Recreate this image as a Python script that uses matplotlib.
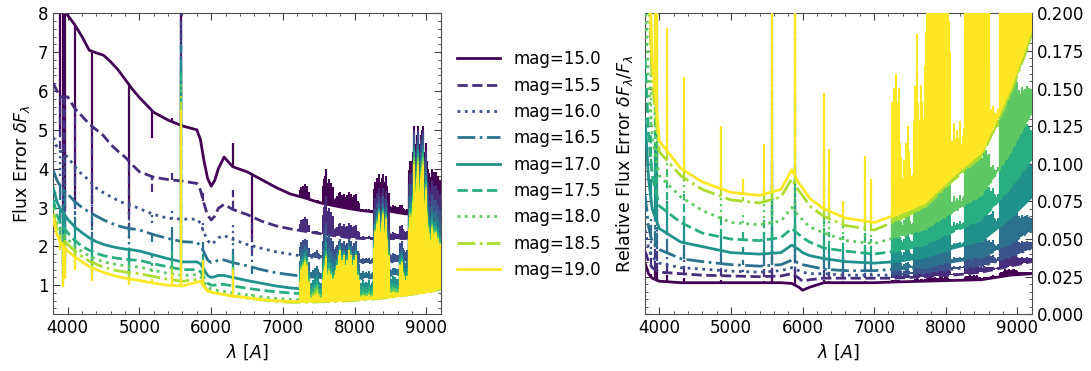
import numpy as np
import matplotlib
matplotlib.use('Agg')
import matplotlib.pyplot as plt
from matplotlib.ticker import MultipleLocator, FormatStrFormatter

# magnitudes and styles
mags = [15.0, 15.5, 16.0, 16.5, 17.0, 17.5, 18.0, 18.5, 19.0]
styles = ['-', '--', ':', '-.', '-', '--', ':', '-.', '-']
colors = plt.cm.viridis(np.linspace(0, 1, len(mags)))

# ---- left panel: flux error continuum ----
wave_l = [3800, 3850, 3900, 4000, 4100, 4200, 4300, 4400, 4500, 4600, 4700, 4800, 4900, 5000,
          5200, 5400, 5600, 5800, 5850, 5900, 5950, 6000, 6050, 6100, 6180, 6300, 6500, 6700,
          6900, 7100, 7300, 7500, 7700, 7900, 8100, 8300, 8500, 8700, 8900, 9100, 9200]
err_15 = [8.6, 8.4, 8.2, 7.95, 7.7, 7.4, 7.05, 6.98, 6.92, 6.75, 6.55, 6.3, 6.05, 5.83, 5.45, 5.25, 5.1,
          5.0, 4.75, 4.2, 3.75, 3.55, 3.7, 4.0, 4.3, 4.05, 3.92, 3.72, 3.52, 3.35, 3.25, 3.13, 3.05,
          2.98, 2.92, 2.88, 2.9, 2.84, 2.82, 2.92, 2.97]
err_155 = [6.2, 6.0, 5.85, 5.85, 5.55, 5.35, 5.15, 5.0, 4.85, 4.62, 4.45, 4.3, 4.1, 3.92, 3.78, 3.72,
           3.68, 3.62, 3.45, 3.1, 2.8, 2.68, 2.78, 2.98, 3.08, 2.95, 2.82, 2.65, 2.53, 2.45, 2.39,
           2.33, 2.28, 2.23, 2.2, 2.2, 2.2, 2.2, 2.25, 2.38, 2.48]
err_16 = [4.8, 4.55, 4.45, 4.3, 4.05, 3.85, 3.7, 3.5, 3.38, 3.28, 3.18, 3.1, 3.05, 2.97, 2.82, 2.72,
          2.7, 2.7, 2.6, 2.35, 2.15, 2.05, 2.12, 2.22, 2.28, 2.18, 2.05, 1.95, 1.86, 1.8, 1.74, 1.7,
          1.65, 1.6, 1.58, 1.58, 1.6, 1.62, 1.68, 1.78, 1.88]
err_165 = [3.95, 3.7, 3.55, 3.35, 3.15, 3.0, 2.88, 2.78, 2.68, 2.6, 2.53, 2.48, 2.45, 2.42, 2.3, 2.2,
           2.12, 2.1, 2.02, 1.85, 1.65, 1.58, 1.6, 1.65, 1.65, 1.58, 1.5, 1.4, 1.32, 1.27, 1.22,
           1.2, 1.18, 1.17, 1.17, 1.2, 1.25, 1.3, 1.38, 1.48, 1.55]
err_17 = [3.5, 3.15, 2.95, 2.7, 2.5, 2.35, 2.22, 2.12, 2.05, 2.0, 1.96, 1.93, 1.91, 1.88, 1.78, 1.68,
          1.6, 1.6, 1.55, 1.4, 1.25, 1.2, 1.22, 1.25, 1.25, 1.2, 1.12, 1.05, 0.98, 0.93, 0.9, 0.88,
          0.87, 0.87, 0.88, 0.9, 0.95, 1.0, 1.05, 1.1, 1.15]
err_175 = [3.2, 2.8, 2.6, 2.35, 2.15, 2.0, 1.9, 1.82, 1.76, 1.72, 1.69, 1.67, 1.65, 1.64, 1.55, 1.47,
           1.4, 1.4, 1.35, 1.2, 1.05, 1.0, 1.0, 1.02, 1.02, 0.98, 0.92, 0.87, 0.83, 0.8, 0.78, 0.77,
           0.77, 0.77, 0.78, 0.8, 0.84, 0.88, 0.92, 0.97, 1.02]
err_18 = [3.0, 2.6, 2.4, 2.18, 2.0, 1.86, 1.75, 1.67, 1.6, 1.56, 1.53, 1.5, 1.48, 1.47, 1.38, 1.3,
          1.25, 1.27, 1.22, 1.08, 0.95, 0.9, 0.88, 0.86, 0.84, 0.8, 0.75, 0.7, 0.66, 0.63, 0.62,
          0.62, 0.63, 0.64, 0.66, 0.69, 0.73, 0.77, 0.82, 0.88, 0.93]
err_185 = [2.85, 2.45, 2.25, 2.05, 1.88, 1.74, 1.62, 1.54, 1.46, 1.41, 1.37, 1.34, 1.32, 1.3, 1.22,
           1.15, 1.1, 1.15, 1.12, 1.0, 0.86, 0.82, 0.8, 0.78, 0.76, 0.72, 0.67, 0.62, 0.58, 0.56,
           0.56, 0.57, 0.58, 0.6, 0.62, 0.65, 0.69, 0.74, 0.79, 0.85, 0.91]
err_19 = [2.7, 2.3, 2.1, 1.88, 1.73, 1.6, 1.48, 1.4, 1.33, 1.27, 1.22, 1.18, 1.15, 1.12, 1.05, 1.0,
          0.98, 1.08, 1.1, 0.97, 0.85, 0.82, 0.8, 0.78, 0.76, 0.72, 0.68, 0.63, 0.6, 0.58, 0.58,
          0.59, 0.6, 0.62, 0.64, 0.67, 0.7, 0.75, 0.8, 0.86, 0.95]
flux_err = [err_15, err_155, err_16, err_165, err_17, err_175, err_18, err_185, err_19]

# narrow lines: absorption dips / sky emission (value at line centre)
line_wave_l = [3889, 3934, 3968, 4101, 4340, 4861, 5175, 5460, 5577, 5890, 6300, 6563]
line_err = [
    [5.0, 2.2, 3.0, 3.0, 3.1, 2.8, 4.8, 5.3, 8.5, 4.35, 4.65, 2.2],
    [4.5, 2.0, 2.6, 3.6, 2.5, 2.4, 3.4, 3.9, 8.2, 3.4, 3.45, 1.8],
    [3.8, 1.8, 2.2, 2.8, 2.1, 1.9, 2.6, 3.0, 7.8, 2.6, 2.6, 1.6],
    [3.2, 1.5, 1.8, 2.4, 2.0, 1.6, 2.1, 2.5, 7.2, 2.1, 2.1, 1.3],
    [2.6, 1.3, 1.6, 1.9, 1.45, 1.3, 1.7, 2.2, 6.8, 1.8, 1.8, 1.05],
    [2.3, 1.2, 1.4, 1.7, 1.3, 1.2, 1.5, 1.9, 6.5, 1.7, 1.6, 0.9],
    [2.1, 1.1, 1.3, 1.6, 1.2, 1.1, 1.35, 1.6, 6.2, 1.65, 1.5, 0.78],
    [2.0, 1.0, 1.2, 1.5, 1.15, 1.05, 1.25, 1.45, 5.9, 1.65, 1.45, 0.7],
    [1.9, 0.95, 1.15, 1.4, 1.1, 1.0, 1.15, 1.3, 5.5, 1.64, 1.4, 0.65],
]

# ---- right panel: relative flux error continuum ----
wave_r = [3800, 3850, 3900, 4000, 4300, 4600, 5000, 5400, 5700, 5850, 5950, 6000, 6100, 6300,
          6600, 7000, 7300, 7700, 8100, 8500, 8900, 9200]
rel_15 = [0.034, 0.027, 0.024, 0.022, 0.021, 0.021, 0.021, 0.021, 0.021, 0.0205, 0.018, 0.016,
          0.018, 0.021, 0.021, 0.021, 0.0215, 0.022, 0.0225, 0.023, 0.026, 0.027]
rel_155 = [0.042, 0.035, 0.031, 0.028, 0.027, 0.026, 0.0255, 0.025, 0.0255, 0.027, 0.024, 0.022,
           0.023, 0.024, 0.024, 0.024, 0.024, 0.025, 0.026, 0.028, 0.032, 0.035]
rel_16 = [0.056, 0.044, 0.038, 0.034, 0.031, 0.030, 0.0287, 0.028, 0.029, 0.031, 0.029, 0.028,
          0.027, 0.027, 0.026, 0.026, 0.026, 0.027, 0.030, 0.032, 0.038, 0.044]
rel_165 = [0.08, 0.058, 0.048, 0.043, 0.037, 0.035, 0.033, 0.032, 0.033, 0.036, 0.034, 0.033,
           0.032, 0.030, 0.029, 0.029, 0.030, 0.031, 0.035, 0.038, 0.047, 0.056]
rel_17 = [0.13, 0.09, 0.07, 0.057, 0.048, 0.045, 0.041, 0.040, 0.041, 0.046, 0.043, 0.041,
          0.039, 0.037, 0.035, 0.034, 0.035, 0.038, 0.044, 0.049, 0.064, 0.078]
rel_175 = [0.17, 0.12, 0.092, 0.072, 0.061, 0.054, 0.050, 0.049, 0.051, 0.057, 0.053, 0.051,
           0.048, 0.044, 0.042, 0.040, 0.042, 0.046, 0.055, 0.063, 0.084, 0.103]
rel_18 = [0.21, 0.155, 0.118, 0.092, 0.078, 0.069, 0.061, 0.0595, 0.062, 0.071, 0.065, 0.063,
          0.058, 0.054, 0.049, 0.047, 0.051, 0.056, 0.068, 0.079, 0.107, 0.134]
rel_185 = [0.27, 0.215, 0.155, 0.108, 0.092, 0.083, 0.076, 0.074, 0.078, 0.09, 0.082, 0.079,
           0.072, 0.065, 0.059, 0.056, 0.062, 0.071, 0.089, 0.105, 0.146, 0.185]
rel_19 = [0.3, 0.24, 0.17, 0.115, 0.097, 0.088, 0.081, 0.079, 0.083, 0.096, 0.087, 0.084,
          0.077, 0.070, 0.064, 0.061, 0.066, 0.074, 0.092, 0.108, 0.150, 0.190]
rel_err = [rel_15, rel_155, rel_16, rel_165, rel_17, rel_175, rel_18, rel_185, rel_19]

line_wave_r = [3889, 3934, 3968, 4101, 4340, 4861, 5175, 5460, 5577, 5890, 6300, 6363, 6563, 6870, 6950]
line_rel = [
    [0.027, 0.03, 0.03, 0.026, 0.024, 0.023, 0.021, 0.022, 0.03, 0.03, 0.023, 0.022, 0.022, 0.022, 0.021],
    [0.038, 0.045, 0.045, 0.035, 0.032, 0.03, 0.026, 0.03, 0.045, 0.045, 0.03, 0.027, 0.028, 0.027, 0.025],
    [0.05, 0.06, 0.06, 0.045, 0.04, 0.038, 0.03, 0.035, 0.06, 0.06, 0.036, 0.032, 0.033, 0.032, 0.029],
    [0.065, 0.08, 0.08, 0.055, 0.05, 0.045, 0.036, 0.045, 0.08, 0.075, 0.045, 0.038, 0.038, 0.038, 0.034],
    [0.09, 0.11, 0.11, 0.075, 0.065, 0.055, 0.045, 0.055, 0.1, 0.1, 0.055, 0.045, 0.045, 0.045, 0.04],
    [0.12, 0.15, 0.15, 0.095, 0.08, 0.065, 0.055, 0.065, 0.15, 0.15, 0.065, 0.055, 0.052, 0.055, 0.05],
    [0.16, 0.2, 0.2, 0.12, 0.1, 0.078, 0.066, 0.078, 0.2, 0.2, 0.085, 0.07, 0.062, 0.068, 0.06],
    [0.2, 0.25, 0.25, 0.15, 0.125, 0.095, 0.078, 0.09, 0.25, 0.25, 0.11, 0.085, 0.066, 0.08, 0.07],
    [0.25, 0.25, 0.25, 0.19, 0.158, 0.125, 0.09, 0.113, 0.25, 0.25, 0.147, 0.11, 0.075, 0.105, 0.09],
]

# ---- red sky-line forest ----
forest_edges = [7240, 7375, 7545, 7705, 8060, 8265, 8475, 8615, 8745]
sky_wave = [7244, 7253, 7264, 7276, 7285, 7296, 7304, 7316, 7329, 7341, 7358, 7369,
            7380, 7390, 7402, 7415, 7430, 7445, 7460, 7475, 7492, 7505, 7518, 7525, 7538,
            7552, 7566, 7580, 7592, 7605, 7618, 7632, 7648, 7665, 7682, 7698,
            7710, 7725, 7735, 7750, 7760, 7775, 7786, 7794, 7808, 7821, 7838, 7852, 7868, 7880,
            7893, 7914, 7930, 7948, 7964, 7978, 7993, 8003, 8014, 8025, 8040, 8056,
            8062, 8070, 8080, 8088, 8098, 8110, 8120, 8135, 8148, 8160, 8172, 8190, 8200, 8215,
            8230, 8240, 8250, 8262,
            8275, 8285, 8298, 8310, 8325, 8344, 8352, 8366, 8382, 8399, 8415, 8430, 8446, 8455,
            8466, 8472,
            8480, 8493, 8505, 8521, 8538, 8550, 8568, 8578, 8590, 8600, 8610,
            8627, 8636, 8646, 8660, 8673, 8690, 8705, 8720, 8736,
            8752, 8763, 8778, 8791, 8800, 8810, 8827, 8836, 8846, 8856, 8867, 8876, 8886, 8899,
            8908, 8922, 8932, 8943, 8958, 8970, 8979, 8988, 9002, 9012, 9020, 9030, 9037, 9050,
            9060, 9071, 9080, 9090, 9105, 9112, 9120, 9130, 9140, 9150, 9158, 9166, 9175, 9184, 9193]
sky_strength = [0.5, 0.8, 0.6, 0.9, 0.5, 0.7, 1.0, 0.8, 0.6, 0.9, 0.5, 0.4,
                0.3, 0.4, 0.4, 0.6, 0.5, 0.8, 0.6, 1.0, 0.7, 0.5, 0.4, 0.3, 0.4,
                0.5, 0.7, 0.6, 0.8, 1.0, 0.6, 0.5, 0.7, 0.6, 0.4, 0.5,
                0.4, 0.5, 0.6, 0.7, 0.5, 0.9, 0.6, 1.0, 0.7, 0.8, 0.6, 0.9, 0.7, 0.5,
                0.8, 1.0, 0.7, 0.9, 0.6, 0.7, 0.8, 0.7, 0.9, 0.6, 0.5, 0.4,
                0.5, 0.3, 0.4, 0.4, 0.3, 0.6, 0.4, 0.3, 0.4, 0.5, 0.3, 0.4, 0.6, 0.3,
                0.3, 0.4, 0.5, 0.4,
                0.6, 0.8, 0.7, 0.9, 0.6, 1.0, 0.8, 0.6, 0.9, 1.0, 0.8, 0.95, 0.6, 0.7,
                0.5, 0.5,
                0.6, 0.7, 0.6, 0.5, 0.8, 0.6, 0.7, 0.6, 0.5, 0.6, 0.6,
                0.6, 0.8, 0.7, 0.9, 0.6, 0.5, 0.4, 0.3, 0.5,
                0.4, 0.5, 0.6, 0.5, 0.6, 0.7, 1.0, 0.8, 0.6, 0.8, 0.9, 0.7, 1.0, 0.8,
                0.7, 0.9, 0.8, 0.95, 1.0, 0.7, 0.6, 0.8, 0.6, 0.5, 0.5, 0.45, 0.45, 0.4,
                0.4, 0.5, 0.45, 0.4, 0.45, 0.4, 0.35, 0.4, 0.45, 0.4, 0.4, 0.35, 0.3, 0.35, 0.35]
# peak level reached in each forest band, per magnitude
forest_top_err = [
    [3.6, 3.2, 4.0, 3.4, 3.0, 3.85, 3.1, 3.1, 5.1],
    [2.75, 2.4, 3.3, 2.6, 2.3, 3.5, 2.4, 2.6, 5.0],
    [2.2, 1.9, 2.6, 2.2, 1.8, 3.3, 1.9, 2.2, 4.9],
    [2.0, 1.5, 2.3, 2.1, 1.5, 3.1, 1.5, 2.0, 4.6],
    [1.85, 1.3, 2.1, 2.0, 1.3, 3.0, 1.3, 1.9, 4.5],
    [1.75, 1.1, 1.9, 1.95, 1.1, 2.95, 1.1, 1.8, 4.4],
    [1.7, 1.0, 1.8, 1.9, 0.95, 2.9, 1.0, 1.75, 4.3],
    [1.65, 0.9, 1.75, 1.9, 0.85, 2.85, 0.9, 1.7, 4.2],
    [1.6, 0.8, 1.7, 1.9, 0.8, 2.8, 0.85, 1.7, 4.1],
]
forest_top_rel = [
    [0.023, 0.022, 0.024, 0.025, 0.023, 0.026, 0.025, 0.026, 0.03],
    [0.028, 0.027, 0.03, 0.033, 0.028, 0.035, 0.033, 0.032, 0.042],
    [0.033, 0.03, 0.036, 0.042, 0.033, 0.046, 0.043, 0.04, 0.056],
    [0.04, 0.035, 0.045, 0.055, 0.04, 0.06, 0.055, 0.05, 0.08],
    [0.05, 0.045, 0.055, 0.075, 0.05, 0.085, 0.075, 0.07, 0.14],
    [0.06, 0.055, 0.07, 0.1, 0.065, 0.11, 0.095, 0.085, 0.16],
    [0.075, 0.07, 0.09, 0.13, 0.085, 0.15, 0.12, 0.1, 0.18],
    [0.12, 0.1, 0.14, 0.25, 0.12, 0.25, 0.2, 0.12, 0.25],
    [0.16, 0.125, 0.186, 0.3, 0.15, 0.3, 0.3, 0.14, 0.3],
]

band_idx = np.digitize(sky_wave, forest_edges) - 1


def draw_panel(ax, wave, cont, lwave, lval, ftop):
    lines = []
    for i in range(len(mags)):
        c, ls = colors[i], styles[i]
        ln, = ax.plot(wave, cont[i], ls=ls, color=c, lw=2.0, zorder=2 + i,
                      label='mag=%.1f' % mags[i])
        lines.append(ln)
        base = np.interp(lwave, wave, cont[i])
        ax.vlines(lwave, np.minimum(base, lval[i]), np.maximum(base, lval[i]),
                  colors=c, linestyles=ls, lw=1.6, zorder=2 + i)
        sbase = np.interp(sky_wave, wave, cont[i])
        stop = sbase + np.array(sky_strength) * (np.array(ftop[i])[band_idx] - sbase)
        ax.vlines(sky_wave, sbase, stop, colors=c, lw=1.5, zorder=2 + i)
    return lines


fig = plt.figure(figsize=(10.91, 3.71), dpi=100)
ax1 = fig.add_axes([0.0489, 0.1528, 0.3551, 0.8113])
ax2 = fig.add_axes([0.5912, 0.1528, 0.3544, 0.8113])

handles = draw_panel(ax1, wave_l, flux_err, line_wave_l, line_err, forest_top_err)
draw_panel(ax2, wave_r, rel_err, line_wave_r, line_rel, forest_top_rel)

for ax in (ax1, ax2):
    ax.set_xlim(3800, 9200)
    ax.xaxis.set_major_locator(MultipleLocator(1000))
    ax.xaxis.set_minor_locator(MultipleLocator(200))
    ax.set_xlabel(r'$\lambda\ [A]$', fontsize=12.5)
    ax.tick_params(which='both', direction='in', top=True, right=True, left=True,
                   labelsize=12, color='0.25')
    ax.tick_params(which='major', length=5)
    ax.tick_params(which='minor', length=2.5)
    for sp in ax.spines.values():
        sp.set_color('0.3')

ax1.set_ylim(0.25, 8)
ax1.yaxis.set_major_locator(MultipleLocator(1))
ax1.yaxis.set_minor_locator(MultipleLocator(0.2))
ax1.set_ylabel(r'Flux Error $\delta F_\lambda$', fontsize=12.5)

ax2.set_ylim(0, 0.2)
ax2.yaxis.set_major_locator(MultipleLocator(0.025))
ax2.yaxis.set_minor_locator(MultipleLocator(0.005))
ax2.yaxis.set_major_formatter(FormatStrFormatter('%.3f'))
ax2.tick_params(labelleft=False, labelright=True)
ax2.set_ylabel(r'Relative Flux Error $\delta F_\lambda/F_\lambda$', fontsize=12.5)
ax2.yaxis.set_label_position('left')

fig.legend(handles=handles, loc='upper left', bbox_to_anchor=(0.405, 0.905),
           frameon=False, fontsize=12, handlelength=2.6, labelspacing=0.5)

fig.savefig('out.png', dpi=100)
